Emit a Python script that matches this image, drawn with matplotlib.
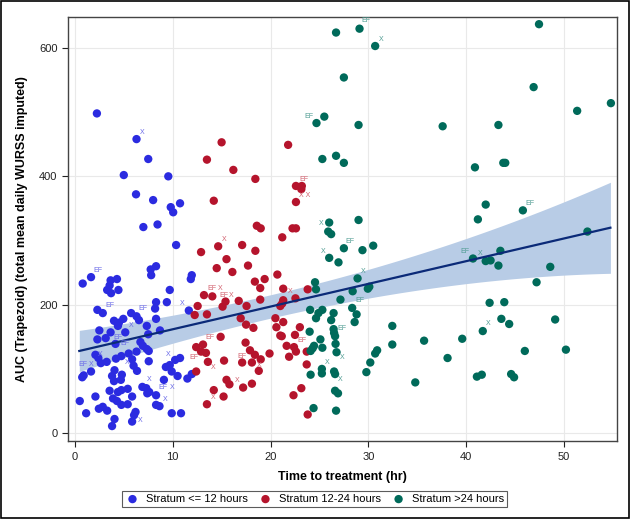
import numpy as np
import matplotlib
matplotlib.use('Agg')
import matplotlib.pyplot as plt
from matplotlib.patches import Rectangle

plt.rcParams['font.family'] = ['Liberation Sans', 'DejaVu Sans']

# Stratum <= 12 hours
blue_x = [2.25, 6.3, 7.5, 5.0, 9.55, 6.25, 8.0, 10.75, 9.8, 10.05, 7.0, 8.45, 10.35,
          7.75, 8.3, 7.8, 0.8, 1.65, 3.65, 4.3, 3.55, 3.3, 3.7, 4.45, 9.7,
          2.3, 2.85, 8.3, 9.4, 8.2, 5.75, 6.3, 6.55, 4.95, 4.0, 4.4, 4.5, 8.3, 7.35,
          2.5, 3.65, 3.15, 5.15, 2.3, 4.15, 7.5, 8.7, 6.7, 6.95, 7.35, 7.55, 2.1, 2.4,
          2.65, 3.25, 5.5, 6.3, 5.85, 6.0, 6.35, 4.2, 4.75, 7.55, 0.9, 1.65, 0.75, 4.05,
          3.8, 4.0, 4.8, 4.7, 6.9, 7.3, 7.4, 7.6, 8.3, 9.1, 0.5, 2.1, 3.55, 4.4, 4.75,
          5.4, 3.9, 4.3, 5.85, 4.75, 5.4, 2.45, 2.85, 3.3, 6.2, 6.05, 1.15, 4.05, 3.8,
          5.85, 8.3, 8.65, 9.9, 9.7, 10.25, 10.75, 9.9, 10.5, 11.5, 11.95, 11.95, 11.85,
          11.65, 10.85, 9.3]
blue_y = [498, 458, 427, 402, 400, 372, 363, 358, 352, 344, 321, 325, 293,
          255, 260, 246, 233, 243, 238, 240, 230, 223, 218, 223, 223,
          192, 187, 204, 204, 194, 187, 182, 176, 178, 175, 167, 172, 178, 167,
          160, 157, 148, 157, 146, 139, 154, 160, 142, 136, 131, 128, 122, 117,
          109, 111, 124, 127, 115, 105, 97, 116, 120, 112, 90, 96, 87, 98,
          89, 81, 91, 83, 72, 70, 62, 64, 59, 83, 50, 57, 66, 64, 67,
          69, 54, 50, 57, 44, 45, 38, 41, 35, 33, 28, 31, 22, 11,
          18, 44, 42, 31, 106, 114, 117, 96, 89, 85, 92, 246, 240,
          191, 31, 103]

# Stratum 12-24 hours
red_x = [15.0, 13.5, 16.2, 18.45, 14.2, 21.8, 22.6, 23.2, 23.15, 22.6, 18.6, 19.0, 22.25, 22.6,
         14.65, 12.9, 17.1, 18.45, 15.5, 14.5, 16.1, 17.7, 18.4, 18.95, 19.4, 20.7, 13.2,
         14.05, 15.4, 15.1, 12.55, 16.75, 17.55, 18.95, 12.25, 13.5, 16.95, 17.5, 18.25,
         14.9, 17.45, 12.4, 13.1, 12.9, 13.4, 13.6, 15.25, 17.9, 18.4, 18.1, 19.0, 17.1,
         18.8, 12.4, 19.9, 15.5, 15.8, 18.1, 17.2, 14.2, 15.2, 13.5,
         21.2, 21.3, 23.8, 22.55, 21.3, 21.2, 21.0, 21.3, 23.0, 22.5, 21.15, 21.65, 22.4,
         22.6, 21.9, 23.7, 23.7, 23.15, 22.35, 23.8, 20.5, 20.6, 21.0]
red_y = [453, 426, 410, 396, 362, 449, 385, 385, 380, 360, 323, 319, 319, 319,
         291, 282, 293, 284, 271, 257, 251, 261, 236, 226, 240, 247, 215,
         213, 205, 197, 198, 206, 198, 208, 184, 185, 179, 169, 164,
         150, 141, 134, 138, 127, 125, 111, 113, 129, 122, 110, 115, 110,
         97, 96, 124, 83, 76, 77, 71, 67, 57, 45,
         305, 225, 224, 210, 207, 202, 198, 173, 165, 153, 151, 136, 134,
         127, 119, 127, 107, 70, 59, 29, 179, 165, 152]

# Stratum > 24 hours
teal_x = [26.7, 29.1, 30.7, 27.5, 25.5, 24.7, 29.0, 25.3, 26.7, 27.5, 37.6, 43.3, 46.9,
          47.45, 51.35, 54.8, 40.9, 43.8, 44.0, 42.0, 41.2, 45.8, 26.0, 29.0,
          52.4, 40.7, 43.5, 42.0, 42.5, 43.3, 48.6, 47.2, 42.4, 43.9, 43.6, 44.4, 41.7,
          49.1, 46.0, 50.2, 32.45, 32.45, 35.7, 39.6, 38.1, 34.8, 41.1, 41.6, 44.6, 44.9,
          30.9, 30.7, 30.5, 27.5, 29.4, 26.0, 26.95, 28.9, 28.4, 29.95, 30.1, 27.15,
          28.35, 28.8, 28.6, 25.3, 26.45, 26.2, 26.45, 26.5, 26.6, 26.65, 26.75, 25.1,
          25.3, 30.2, 29.8, 25.25, 25.25, 26.5, 26.6, 26.6, 26.9, 26.7,
          25.9, 26.2, 24.55, 24.65, 24.05, 24.9, 24.65, 24.0, 24.45, 24.3, 24.1, 24.1, 24.4]
teal_y = [624, 630, 603, 554, 493, 483, 480, 427, 432, 421, 478, 480, 539,
          637, 502, 514, 414, 421, 421, 356, 333, 347, 328, 332,
          314, 272, 284, 268, 269, 261, 259, 235, 203, 204, 178, 170, 159,
          177, 128, 130, 167, 138, 144, 147, 117, 79, 88, 91, 92, 87,
          129, 124, 292, 288, 285, 273, 266, 241, 221, 225, 228, 208,
          195, 185, 173, 192, 187, 176, 162, 156, 151, 139, 126, 146,
          133, 110, 95, 100, 93, 96, 92, 66, 62, 35,
          314, 310, 235, 224, 192, 187, 179, 158, 136, 132, 128, 91, 39]

# small "EF" / "X" flags printed next to some points (text position, label)
blue_flags = [(6.9, 469, 'X'), (2.35, 253, 'EF'), (3.6, 199, 'EF'), (6.95, 194, 'EF'),
              (5.75, 168, 'X'), (4.4, 149, 'EF'), (5.15, 139, 'EF'), (2.6, 123, 'X'),
              (5.35, 110, 'X'), (0.8, 107, 'EF'), (1.65, 107, 'X'), (9.5, 123, 'X'),
              (7.55, 83, 'X'), (9.05, 71, 'EF'), (9.9, 71, 'X'), (9.25, 53, 'X'),
              (6.7, 20, 'X'), (11.0, 202, 'X')]
red_flags = [(15.3, 302, 'X'), (14.05, 225, 'EF'), (14.9, 225, 'X'), (15.2, 215, 'EF'),
             (16.0, 215, 'X'), (13.8, 149, 'EF'), (12.2, 118, 'EF'), (14.15, 103, 'X'),
             (17.05, 120, 'EF'), (18.85, 106, 'X'), (16.55, 82, 'X'), (14.1, 56, 'X'),
             (22.0, 221, 'X'), (23.2, 144, 'EF'), (23.4, 395, 'EF'), (23.45, 370, 'X X')]
teal_flags = [(29.8, 642, 'EF'), (31.3, 613, 'X'), (23.9, 493, 'EF'), (25.15, 326, 'X'),
              (28.15, 299, 'EF'), (25.35, 283, 'X'), (29.45, 251, 'X'), (29.1, 206, 'EF'),
              (27.3, 163, 'EF'), (27.3, 118, 'X'), (25.75, 110, 'X'), (27.1, 83, 'X'),
              (39.85, 283, 'EF'), (41.4, 280, 'X'), (46.5, 357, 'EF'), (42.25, 171, 'X')]

# fitted line and its confidence band
fit_intercept = 126.4
fit_slope = 3.536
band_x = [0.45, 10, 20, 25, 30, 40, 50, 54.75]
band_hi = [160, 184, 215, 234, 256, 303, 360, 391]
band_lo = [96, 140, 179, 196, 210, 233, 246, 249]

strata = [
    ('Stratum <= 12 hours', blue_x, blue_y, '#2b2be0', '#6a6ae8', blue_flags),
    ('Stratum 12-24 hours', red_x, red_y, '#b5142c', '#d2606e', red_flags),
    ('Stratum >24 hours', teal_x, teal_y, '#006a5a', '#4f9c92', teal_flags),
]

fig = plt.figure(figsize=(6.3, 5.19), dpi=100)
ax = fig.add_axes([0.108, 0.150, 0.871, 0.817])

# Confidence band + regression line
xs = np.linspace(band_x[0], band_x[-1], 200)
hi = np.polyval(np.polyfit(band_x, band_hi, 3), xs)
lo = np.polyval(np.polyfit(band_x, band_lo, 3), xs)
ax.fill_between(xs, lo, hi, color='#b8cce6', lw=0, zorder=2)

handles = []
for label, x, y, color, flag_color, flags in strata:
    h = ax.scatter(x, y, s=36, color=color, edgecolors='none', zorder=3, label=label)
    handles.append(h)
    for fx, fy, txt in flags:
        ax.text(fx, fy, txt, fontsize=5, color=flag_color, ha='center', va='center', zorder=4)

ax.plot(xs, fit_intercept + fit_slope * xs, color='#0b2a78', lw=1.6, zorder=3)

ax.set_xlim(-0.7, 55.4)
ax.set_ylim(-12.5, 648)
ax.set_xticks([0, 10, 20, 30, 40, 50])
ax.set_yticks([0, 200, 400, 600])
ax.grid(True, color='#e9e9e9', lw=0.8, zorder=0)
ax.set_axisbelow(True)
ax.tick_params(direction='out', length=4, width=0.8, labelsize=8, colors='#222222')
for sp in ax.spines.values():
    sp.set_color('#444444')
    sp.set_linewidth(1.0)

ax.set_xlabel('Time to treatment (hr)', fontsize=9, fontweight='bold', labelpad=7)
ax.set_ylabel('AUC (Trapezoid) (total mean daily WURSS imputed)', fontsize=9,
              fontweight='bold', labelpad=8)

leg = fig.legend(handles=handles, loc='center', bbox_to_anchor=(0.499, 0.0385), ncol=3,
                 fontsize=8, frameon=True, fancybox=False, handletextpad=0.5,
                 handlelength=1.4, columnspacing=0.9, borderpad=0.25, scatterpoints=1,
                 markerscale=1.0)
leg.get_frame().set_edgecolor('#333333')
leg.get_frame().set_linewidth(0.8)

# outer border around the whole image
fig.patches.append(Rectangle((0.001, 0.001), 0.998, 0.998, transform=fig.transFigure,
                             fill=False, edgecolor='black', lw=1.2))

fig.savefig('out.png', dpi=100)
